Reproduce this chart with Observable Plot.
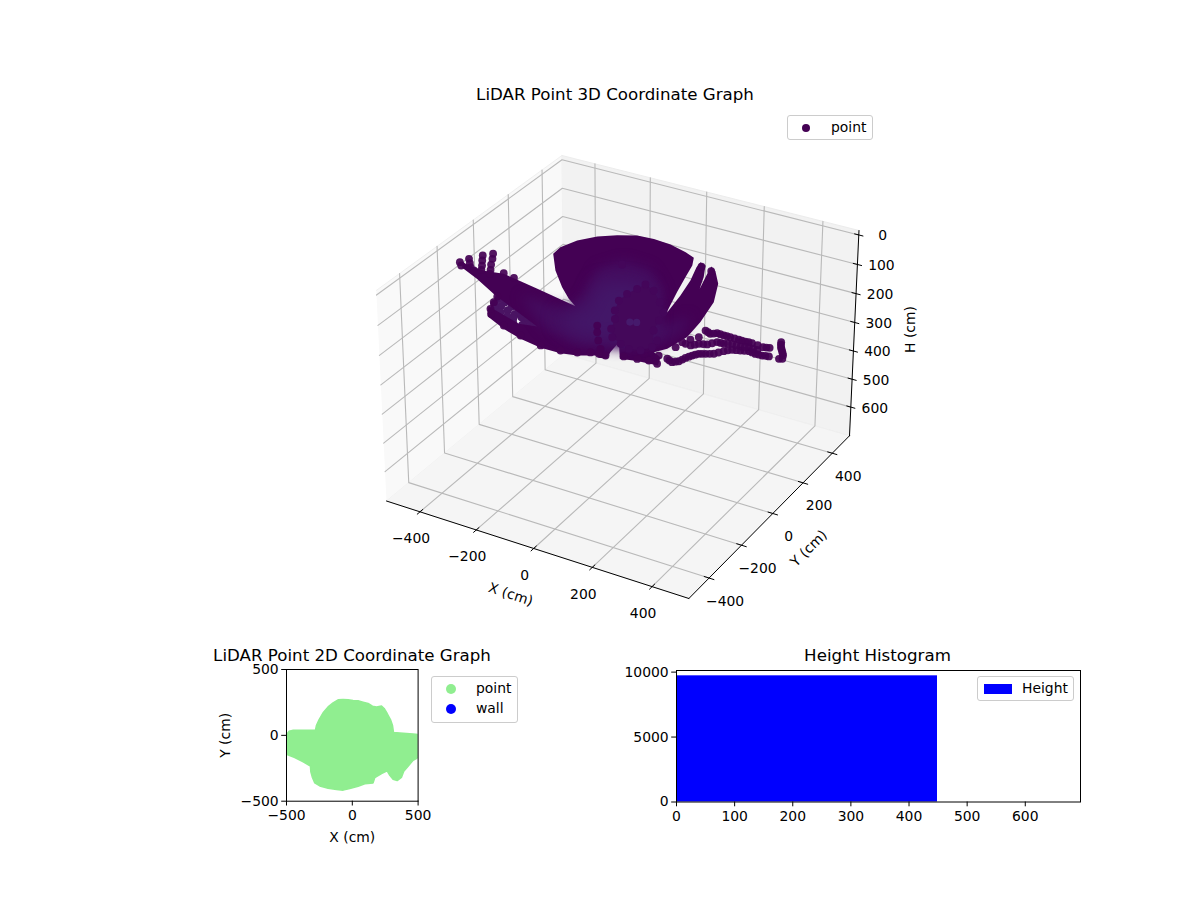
<!DOCTYPE html>
<html>
<head>
<meta charset="utf-8">
<script src="https://cdn.jsdelivr.net/npm/d3@7"></script>
<script src="https://cdn.jsdelivr.net/npm/@observablehq/plot@0.6"></script>
<style>
  html, body { margin: 0; background: #fff; }
  #root { position: relative; width: 1200px; height: 900px; overflow: hidden; font-family: "DejaVu Sans", sans-serif; color: #000; }
  .title { position: absolute; font-size: 16.67px; transform: translateX(-50%); white-space: nowrap; line-height: 15px; }
  .legend { position: absolute; background: #fff; border: 1px solid #ccc; border-radius: 3px; box-sizing: border-box; font-size: 13.9px; }
  .legend span.t { position: absolute; line-height: 16px; }
  .legend i { position: absolute; display: block; }
</style>
</head>
<body>
<div id="root"></div>
<script>
// ---- axis limits and ticks of the 3D panel
const xLim = [-521, 521];
const yLim = [-521, 521];
const hLim = [704, -15];           // bottom, top (the H axis is inverted)
const xTicks3d = [-400, -200, 0, 200, 400];
const yTicks3d = [-400, -200, 0, 200, 400];
const hTicks3d = [0, 100, 200, 300, 400, 500, 600];

// ---- 3D cloud (cm); returns taken at one height
const cloudH = 50;
// silhouette of the merged swaths
const bodyX = [-470,-423,-379,-323,-255,-187,-108,-35,-75,-129,-201,-262,-266,-244,-205,-157,-103,-47,14,78,117,137,155,179,217,198,178,153,148,171,202,230,244,224,201,189,214,259,302,326,336,320,297,327,344,281,232,182,190,201,178,166,118,71,6,-71,-144,-223,-242,-254,-122,-68,-278,-374,-450];
const bodyY = [-144,-154,-158,-145,-160,-176,-195,-212,-183,-131,-50,38,86,149,203,241,269,274,268,247,227,181,106,12,-125,-2,95,178,212,201,133,53,-15,73,157,204,184,118,11,-114,-211,-299,-335,-351,-396,-403,-416,-334,-396,-434,-441,-433,-460,-472,-474,-458,-432,-392,-362,-338,-385,-372,-269,-212,-175];
// slightly paler inner regions of the swaths
const glowAX = [-208,-44,-46,-98,-56,39,140,204,249,282,305,289,213,84,-44];
const glowAY = [-236,-242,-146,21,107,100,1,-151,-193,-94,-184,-283,-361,-402,-374];
const glowBX = [-48,5,-50,7,88,185,236,189,80,1];
const glowBY = [-292,-211,-61,-4,-5,-138,-247,-319,-359,-337];
// the dense, darker knot of nearer returns
const knotX = [75,67,57,57,77,103,123,151,191,226,259,278,234,218,205,166,115];
const knotY = [7,-29,-71,-119,-177,-221,-277,-319,-340,-354,-345,-312,-225,-166,-115,-68,-14];
const paleX = [150,168];
const paleY = [-216,-208];
// individually visible returns
const fingerX = [-476,-461,-464,-447,-431,-440,-424,-407,-394,-419,-403,-387,-370,-359,-325,-283,-411,164,203];
const fingerY = [-148,-164,-116,-138,-159,-77,-105,-133,-157,-52,-81,-114,-144,-166,-142,-152,-172,189,178];
const edgeX = [-223,-241,-254,-264,-154,-81,-1,63,110,142,79,99,126,156,188,167,235,275,308,337,318];
const edgeY = [-374,-349,-310,-275,-415,-441,-462,-459,-445,-426,-281,-315,-355,-394,-420,-421,-399,-392,-384,-388,-345];
const latticeX = [-252,-225,-194,-164,-135,-101,-247,-223,-192,-162,-137,-112,-231,-205,-175,-152,-99,-110,-159,-137,-196,-83,-77];
const latticeY = [-285,-293,-306,-317,-327,-345,-318,-320,-333,-343,-347,-356,-343,-352,-363,-368,-376,-385,-391,-391,-379,-363,-346];
const wingX = [336,351,338,351,365,363,384,399,422,443,471,492,513,551,569,348,369,383,390,400,411,428,448,465,482,504,527,550,571,590,368,384,406,424,445,466,494,516,544,582,595,608,622,629,621,
  374,392,410,432,457,481,502,532,560,358,376,387,395,405,419,438,456,473,493,515,538,560,580,376,395,415,435,455,480,505,530,588,601,615];
const wingY = [-279,-248,-244,-219,-195,-151,-161,-148,-150,-150,-151,-151,-150,-155,-149,-349,-359,-345,-319,-298,-280,-270,-258,-231,-212,-204,-195,-200,-199,-194,-249,-229,-220,-194,-193,-182,-183,-175,-177,-103,-129,-148,-169,-187,-192,
  -156,-155,-149,-150,-150,-151,-150,-152,-152,-354,-352,-332,-308,-289,-275,-264,-245,-221,-208,-200,-197,-199,-196,-239,-224,-207,-193,-187,-182,-179,-176,-116,-138,-158];
const coreX = [-48,75,67,57,57,77,103,123,151,191,226,259,278,115,166,205,218,234,271];
const coreY = [82,7,-29,-71,-119,-177,-221,-277,-319,-340,-354,-345,-312,-14,-68,-115,-166,-225,-271];

// ---- 2D panel: outline of the filled scatter (cm)
const outlineX = [-500,-480,-449,-280,-272,-252,-222,-184,-146,-108,-70,-32,6,44,82,120,153,184,222,242,265,290,305,313,386,462,500,500,462,424,391,373,341,310,285,265,222,171,158,95,44,-19,-70,-120,-184,-247,-285,-303,-315,-318,-373,-437,-500];
const outlineY = [6,32,39,39,77,120,171,216,247,270,272,270,265,262,252,242,222,216,222,204,166,120,77,22,16,11,6,-168,-189,-234,-272,-320,-343,-333,-303,-270,-290,-320,-361,-368,-386,-404,-416,-411,-401,-384,-361,-320,-277,-234,-201,-168,-143];
const ticks2d = [-500, 0, 500];

// ---- histogram
const histStart = [0];
const histEnd = [449];
const histCount = [9715];
const histXTicks = [0, 100, 200, 300, 400, 500, 600];
const histYTicks = [0, 5000, 10000];

const PURPLE = "#440154", GREEN = "#90ee90", BLUE = "#0000ff";
const FONT = "DejaVu Sans", FS = 13.9;
const root = document.getElementById("root");

// ---- mplot3d camera (elev 30, azim -60, dist 10)
const el = 30 * Math.PI / 180, az = -60 * Math.PI / 180, dist = 10;
const box = [4, 4, 2.8].map(v => v * 1.9057 / Math.hypot(4, 4, 3));
const R = box.map(v => v / 2);
const dir = [Math.cos(el) * Math.cos(az), Math.cos(el) * Math.sin(az), Math.sin(el)];
const eye = R.map((v, i) => v + dist * dir[i]);
const cross = (a, b) => [a[1]*b[2]-a[2]*b[1], a[2]*b[0]-a[0]*b[2], a[0]*b[1]-a[1]*b[0]];
const dot3 = (a, b) => a[0]*b[0] + a[1]*b[1] + a[2]*b[2];
let U = cross([0, 0, 1], dir); const nu = Math.hypot(...U); U = U.map(v => v / nu);
const V = cross(dir, U);
function project(X, Y, H) {
  const p = [
    (X - xLim[0]) / (xLim[1] - xLim[0]) * box[0],
    (Y - yLim[0]) / (yLim[1] - yLim[0]) * box[1],
    (H - hLim[0]) / (hLim[1] - hLim[0]) * box[2]
  ].map((v, i) => v - eye[i]);
  const depth = -dot3(p, dir);
  return [dot3(p, U) / depth, dot3(p, V) / depth];
}
const pu = d => project(d.X, d.Y, d.H)[0];
const pv = d => project(d.X, d.Y, d.H)[1];
const [x0, x1] = xLim, [y0, y1] = yLim, [hb, ht] = hLim;

// ---- rows for the 3D box
const path = (key, ...pts) => pts.map(([X, Y, H]) => ({ key, X, Y, H }));
const paneLeft = path("l", [x0,y0,hb],[x0,y1,hb],[x0,y1,ht],[x0,y0,ht]);
const paneBack = path("b", [x0,y1,hb],[x1,y1,hb],[x1,y1,ht],[x0,y1,ht]);
const paneFloor = path("f", [x0,y0,hb],[x1,y0,hb],[x1,y1,hb],[x0,y1,hb]);
const grid = [
  ...xTicks3d.flatMap(t => path("x" + t, [t,y0,hb],[t,y1,hb],[t,y1,ht])),
  ...yTicks3d.flatMap(t => path("y" + t, [x1,t,hb],[x0,t,hb],[x0,t,ht])),
  ...hTicks3d.flatMap(t => path("h" + t, [x0,y0,t],[x0,y1,t],[x1,y1,t]))
];
const axes3d = [
  ...path("ax", [x0,y0,hb],[x1,y0,hb]),
  ...path("ay", [x1,y0,hb],[x1,y1,hb]),
  ...path("ah", [x1,y1,hb],[x1,y1,ht]),
  ...xTicks3d.flatMap(t => path("tx" + t, [t,y0-15,hb],[t,y0+15,hb])),
  ...yTicks3d.flatMap(t => path("ty" + t, [x1-16,t,hb],[x1+16,t,hb])),
  ...hTicks3d.flatMap(t => path("th" + t, [x1-14,y1,t],[x1+14,y1,t]))
];
const xy = (xs, ys, H) => xs.map((X, i) => ({ X, Y: ys[i], H }));
const body = xy(bodyX, bodyY, cloudH);
const glowA = xy(glowAX, glowAY, cloudH);
const glowB = xy(glowBX, glowBY, cloudH);
const knot = xy(knotX, knotY, cloudH);
const pale = xy(paleX, paleY, cloudH);
const points3d = [...xy(fingerX, fingerY, cloudH), ...xy(edgeX, edgeY, cloudH), ...xy(wingX, wingY, cloudH)];
const lattice = xy(latticeX, latticeY, cloudH);
const core = xy(coreX, coreY, cloudH);
const fmt = d3.format("d");
const labelStyle = { fontSize: FS, fontFamily: FONT, fill: "#000" };

const lineOpts = o => ({ x: pu, y: pv, z: "key", ...o });
const chart3d = Plot.plot({
  width: 1200, height: 640, margin: 0,
  style: { background: "transparent", fontFamily: FONT, fontSize: FS + "px", position: "absolute", left: 0, top: 0 },
  x: { axis: null, domain: [project(x0,y0,hb)[0], project(x1,y1,hb)[0]], range: [386, 849] },
  y: { axis: null, domain: [project(x1,y0,hb)[1], project(x0,y1,ht)[1]], range: [598, 155] },
  marks: [
    Plot.line(paneLeft, lineOpts({ fill: "#f9f9f9", stroke: "#f0f0f0", strokeWidth: 1 })),
    Plot.line(paneBack, lineOpts({ fill: "#f2f2f2", stroke: "#ececec", strokeWidth: 1 })),
    Plot.line(paneFloor, lineOpts({ fill: "#f5f5f5", stroke: "#efefef", strokeWidth: 1 })),
    Plot.line(grid, lineOpts({ stroke: "#b9b9b9", strokeWidth: 1.1 })),
    Plot.line(axes3d, lineOpts({ stroke: "#000", strokeWidth: 1 })),
    Plot.text(xTicks3d, { x: t => project(t,y0,hb)[0], y: t => project(t,y0,hb)[1], text: fmt, dx: -9, dy: 27, ...labelStyle }),
    Plot.text(yTicks3d, { x: t => project(x1,t,hb)[0], y: t => project(x1,t,hb)[1], text: fmt, dx: 16, dy: 23, ...labelStyle }),
    Plot.text(hTicks3d, { x: t => project(x1,y1,t)[0], y: t => project(x1,y1,t)[1], text: fmt, dx: 24, dy: 1, ...labelStyle }),
    Plot.text(["X (cm)"], { x: () => project(0,y0,hb)[0], y: () => project(0,y0,hb)[1], text: d => d, dx: -23, dy: 46, rotate: 18, ...labelStyle }),
    Plot.text(["Y (cm)"], { x: () => project(x1,0,hb)[0], y: () => project(x1,0,hb)[1], text: d => d, dx: 36, dy: 35, rotate: -45, ...labelStyle }),
    Plot.text(["H (cm)"], { x: () => project(x1,y1,300)[0], y: () => project(x1,y1,300)[1], text: d => d, dx: 56, dy: 7, rotate: -90, ...labelStyle }),
    Plot.dot(lattice, { x: pu, y: pv, r: 4.2, fill: "#4a1463", stroke: "none" }),
    Plot.line(body, { x: pu, y: pv, fill: PURPLE, stroke: "none" }),
    Plot.line(glowA, { x: pu, y: pv, fill: "#440c5f", stroke: "none" }),
    Plot.line(glowB, { x: pu, y: pv, fill: "#431768", stroke: "none" }),
    Plot.line(knot, { x: pu, y: pv, fill: "#44085a", stroke: "none" }),
    Plot.dot(pale, { x: pu, y: pv, r: 3.6, fill: "#461a6c", stroke: "none" }),
    Plot.dot(points3d, { x: pu, y: pv, r: 3.9, fill: PURPLE, fillOpacity: 0.92, stroke: "none" }),
    Plot.dot(core, { x: pu, y: pv, r: 3.9, fill: "#44065a", stroke: "none" })
  ]
});
root.append(chart3d);
// the paler regions fade into the swaths
const lineGroups = chart3d.querySelectorAll('g[aria-label="line"]');
lineGroups[6].style.filter = "blur(6px)";
lineGroups[7].style.filter = "blur(9px)";

// ---- 2D panel
const outline = outlineX.map((X, i) => ({ X, Y: outlineY[i] }));
const chart2d = Plot.plot({
  width: 222, height: 190, marginLeft: 80, marginRight: 10.4, marginTop: 10, marginBottom: 48.3,
  style: { background: "transparent", fontFamily: FONT, fontSize: FS + "px", color: "#000", position: "absolute", left: "206.2px", top: "659.3px", overflow: "visible" },
  x: { domain: [-500, 500] }, y: { domain: [-500, 500] },
  marks: [
    Plot.line(outline, { x: "X", y: "Y", fill: GREEN, stroke: GREEN, strokeWidth: 1.5, strokeLinejoin: "round", clip: "frame" }),
    Plot.frame({ stroke: "#000", strokeWidth: 1 }),
    Plot.axisX({ ticks: ticks2d, tickFormat: "d", tickSize: 4.8, tickPadding: 4, label: "X (cm)", labelAnchor: "center", labelArrow: "none", labelOffset: 41, stroke: "#000", fill: "#000" }),
    Plot.axisY({ ticks: ticks2d, tickFormat: "d", tickSize: 4.8, tickPadding: 3, label: "Y (cm)", labelAnchor: "center", labelArrow: "none", labelOffset: 66, stroke: "#000", fill: "#000" })
  ]
});
root.append(chart2d);

// ---- histogram panel
const hist = histStart.map((s, i) => ({ s, e: histEnd[i], c: histCount[i] }));
const chartH = Plot.plot({
  width: 494, height: 190, marginLeft: 80, marginRight: 10, marginTop: 10, marginBottom: 48.5,
  style: { background: "transparent", fontFamily: FONT, fontSize: FS + "px", color: "#000", position: "absolute", left: "596.3px", top: "659.5px", overflow: "visible" },
  x: { domain: [0, 695] }, y: { domain: [0, 10125] },
  marks: [
    Plot.rect(hist, { x1: "s", x2: "e", y1: () => 0, y2: "c", fill: BLUE, inset: 0 }),
    Plot.frame({ stroke: "#000", strokeWidth: 1 }),
    Plot.axisX({ ticks: histXTicks, tickFormat: "d", tickSize: 4.8, tickPadding: 4, label: null, stroke: "#000", fill: "#000" }),
    Plot.axisY({ ticks: histYTicks, tickFormat: "d", tickSize: 4.8, tickPadding: 3, label: null, stroke: "#000", fill: "#000" })
  ]
});
root.append(chartH);

// ---- titles and legends
function title(text, cx, top) {
  const d = document.createElement("div");
  d.className = "title"; d.textContent = text;
  d.style.left = cx + "px"; d.style.top = top + "px";
  root.append(d);
}
title("LiDAR Point 3D Coordinate Graph", 615, 87);
title("LiDAR Point 2D Coordinate Graph", 352, 648);
title("Height Histogram", 877.5, 648);

function legend(l, t, w, h, items) {
  const d = document.createElement("div");
  d.className = "legend";
  d.style.cssText = `left:${l}px;top:${t}px;width:${w}px;height:${h}px`;
  for (const it of items) {
    const m = document.createElement("i");
    m.style.cssText = it.rect
      ? `left:${it.mx-14}px;top:${it.my-5}px;width:28px;height:10px;background:${it.color}`
      : `left:${it.mx-it.r}px;top:${it.my-it.r}px;width:${2*it.r}px;height:${2*it.r}px;border-radius:50%;background:${it.color}`;
    const s = document.createElement("span");
    s.className = "t"; s.textContent = it.text;
    s.style.left = it.tx + "px"; s.style.top = (it.my - 9) + "px";
    d.append(m, s);
  }
  root.append(d);
}
legend(787, 115, 86, 25, [{ text: "point", color: PURPLE, r: 4, mx: 18, my: 12, tx: 43 }]);
legend(431, 676, 87, 47, [
  { text: "point", color: GREEN, r: 5, mx: 19, my: 12, tx: 44 },
  { text: "wall", color: BLUE, r: 5, mx: 19, my: 32, tx: 44 }
]);
legend(977, 676, 97, 25, [{ text: "Height", color: BLUE, rect: true, mx: 20, my: 12, tx: 44 }]);
</script>
</body>
</html>
